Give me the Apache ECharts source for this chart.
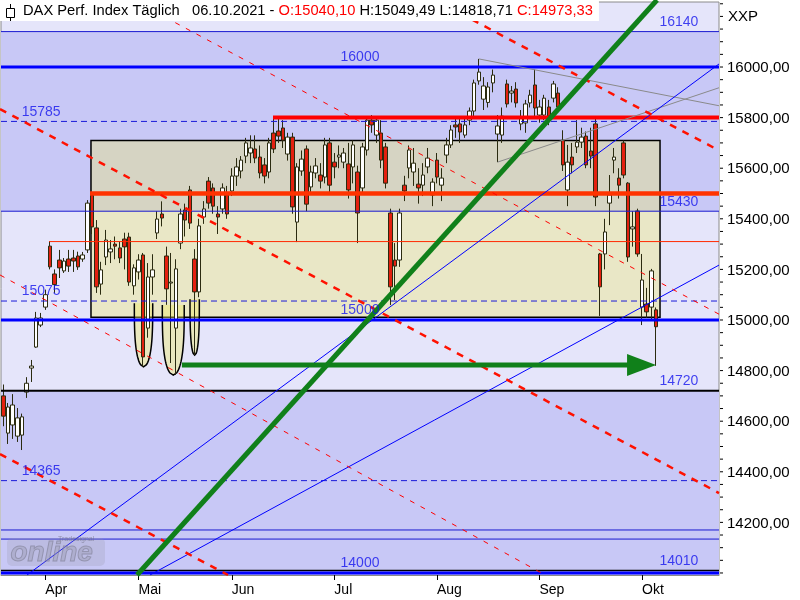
<!DOCTYPE html>
<html><head><meta charset="utf-8">
<script src="https://cdn.jsdelivr.net/npm/echarts@6/dist/echarts.min.js"></script>
<style>html,body{margin:0;padding:0;background:#fff}#c{width:800px;height:600px}</style>
</head><body><div id="c"></div>
<script>
// ---------- data ----------
const DATES = [
 '2021-03-19','2021-03-22','2021-03-23','2021-03-24','2021-03-25','2021-03-26','2021-03-29','2021-03-30','2021-03-31',
 '2021-04-01','2021-04-06','2021-04-07','2021-04-08','2021-04-09','2021-04-12','2021-04-13','2021-04-14','2021-04-15','2021-04-16',
 '2021-04-19','2021-04-20','2021-04-21','2021-04-22','2021-04-23','2021-04-26','2021-04-27','2021-04-28','2021-04-29','2021-04-30',
 '2021-05-03','2021-05-04','2021-05-05','2021-05-06','2021-05-07','2021-05-10','2021-05-11','2021-05-12','2021-05-13','2021-05-14',
 '2021-05-17','2021-05-18','2021-05-19','2021-05-20','2021-05-21','2021-05-25','2021-05-26','2021-05-27','2021-05-28','2021-05-31',
 '2021-06-01','2021-06-02','2021-06-03','2021-06-04','2021-06-07','2021-06-08','2021-06-09','2021-06-10','2021-06-11','2021-06-14',
 '2021-06-15','2021-06-16','2021-06-17','2021-06-18','2021-06-21','2021-06-22','2021-06-23','2021-06-24','2021-06-25','2021-06-28',
 '2021-06-29','2021-06-30',
 '2021-07-01','2021-07-02','2021-07-05','2021-07-06','2021-07-07','2021-07-08','2021-07-09','2021-07-12','2021-07-13','2021-07-14',
 '2021-07-15','2021-07-16','2021-07-19','2021-07-20','2021-07-21','2021-07-22','2021-07-23','2021-07-26','2021-07-27','2021-07-28',
 '2021-07-29','2021-07-30',
 '2021-08-02','2021-08-03','2021-08-04','2021-08-05','2021-08-06','2021-08-09','2021-08-10','2021-08-11','2021-08-12','2021-08-13',
 '2021-08-16','2021-08-17','2021-08-18','2021-08-19','2021-08-20','2021-08-23','2021-08-24','2021-08-25','2021-08-26','2021-08-27',
 '2021-08-30','2021-08-31',
 '2021-09-01','2021-09-02','2021-09-03','2021-09-06','2021-09-07','2021-09-08','2021-09-09','2021-09-10','2021-09-13','2021-09-14',
 '2021-09-15','2021-09-16','2021-09-17','2021-09-20','2021-09-21','2021-09-22','2021-09-23','2021-09-24','2021-09-27','2021-09-28',
 '2021-09-29','2021-09-30',
 '2021-10-01','2021-10-04','2021-10-05','2021-10-06'
];
const FUTURE_DATES = ['2021-10-07','2021-10-08','2021-10-11','2021-10-12','2021-10-13','2021-10-14','2021-10-15',
 '2021-10-18','2021-10-19','2021-10-20','2021-10-21','2021-10-22','2021-10-25'];
// [open, close, low, high]
const OHLC = [
 [14700,14620,14580,14745],[14553,14656,14510,14672],[14585,14664,14530,14707],[14541,14613,14518,14652],[14545,14617,14486,14630],
 [14715,14750,14692,14774],[14810,14818,14755,14842],[14893,15008,14890,15032],[14980,15008,14972,15028],
 [15051,15100,15040,15120],[15292,15210,15200,15312],[15182,15140,15107,15200],[15237,15206,15166,15277],[15194,15233,15186,15245],
 [15241,15213,15190,15277],[15245,15233,15190,15277],[15253,15210,15198,15270],[15241,15257,15230,15269],[15277,15462,15265,15474],
 [15494,15368,15340,15501],[15364,15131,15107,15395],[15142,15198,15100,15230],[15249,15316,15217,15356],[15269,15281,15225,15316],
 [15300,15292,15240,15330],[15285,15245,15225,15310],[15320,15289,15200,15345],[15328,15150,15135,15345],[15135,15206,15100,15220],
 [15190,15237,15160,15260],[15257,14854,14814,15265],[14968,15170,14930,15225],[15170,15198,15100,15260],[15344,15399,15320,15430],
 [15419,15403,15370,15469],[15253,15123,15060,15290],[15146,15150,14830,15265],[14968,15202,14783,15240],[15304,15419,15280,15440],
 [15435,15395,15330,15460],[15514,15383,15360,15530],[15241,15111,14862,15280],[15111,15372,15090,15400],[15407,15439,15380,15470],
 [15549,15462,15440,15565],[15522,15450,15420,15540],[15419,15407,15340,15450],[15439,15522,15420,15540],[15494,15419,15400,15530],
 [15510,15569,15490,15600],[15569,15605,15530,15640],[15589,15632,15560,15648],[15648,15700,15620,15720],[15660,15680,15620,15730],
 [15676,15640,15620,15730],[15644,15581,15560,15690],[15613,15569,15540,15640],[15585,15700,15560,15720],[15739,15676,15660,15805],
 [15747,15727,15700,15800],[15759,15711,15680,15790],[15656,15723,15630,15740],[15723,15447,15420,15740],[15387,15605,15308,15620],
 [15589,15636,15570,15670],[15676,15458,15430,15690],[15526,15585,15500,15610],[15581,15609,15560,15640],[15573,15549,15520,15620],
 [15565,15692,15540,15720],[15700,15533,15500,15720],
 [15624,15605,15560,15660],[15644,15652,15600,15690],[15624,15660,15600,15680],[15617,15514,15480,15700],[15605,15692,15540,15710],
 [15585,15423,15304,15610],[15522,15684,15500,15700],[15672,15790,15650,15800],[15790,15771,15740,15810],[15731,15790,15700,15800],
 [15739,15632,15600,15790],[15684,15541,15520,15700],[15423,15131,15059,15440],[15237,15213,15079,15304],[15237,15423,15210,15440],
 [15533,15510,15470,15570],[15601,15672,15560,15690],[15585,15620,15530,15680],[15537,15522,15460,15600],[15533,15573,15490,15620],
 [15605,15640,15580,15680],[15494,15545,15450,15560],
 [15632,15565,15540,15660],[15533,15561,15470,15600],[15652,15692,15620,15720],[15692,15751,15680,15770],[15771,15763,15720,15800],
 [15775,15743,15700,15800],[15731,15771,15720,15800],[15790,15826,15770,15840],[15826,15937,15800,15950],[15945,15980,15930,16032],
 [15873,15925,15830,15960],[15860,15921,15840,15940],[15937,15968,15900,15990],[15735,15767,15624,15810],[15731,15806,15700,15840],
 [15933,15854,15840,15950],[15897,15905,15860,15925],[15913,15858,15840,15940],[15775,15798,15750,15830],[15779,15854,15740,15870],
 [15858,15889,15840,15910],[15929,15838,15800,15990],
 [15810,15842,15780,15870],[15810,15877,15790,15890],[15842,15806,15770,15870],[15877,15933,15860,15945],[15897,15842,15820,15920],
 [15711,15613,15589,15750],[15514,15624,15450,15692],[15644,15613,15580,15700],[15684,15703,15660,15790],[15703,15723,15680,15760],
 [15727,15613,15600,15745],[15668,15648,15600,15760],[15775,15486,15450,15800],[15261,15131,15016,15265],[15261,15348,15200,15400],
 [15462,15494,15375,15573],[15632,15644,15580,15680],[15561,15533,15480,15600],[15700,15573,15560,15710],[15541,15249,15230,15545],
 [15360,15368,15290,15430],[15431,15261,15250,15440],
 [15051,15158,14980,15261],[15063,15032,15008,15127],[15051,15194,15000,15202],[15040.10,14973.33,14818.71,15049.49]
];
const MONTH_NAMES = {'04':'Apr','05':'Mai','06':'Jun','07':'Jul','08':'Aug','09':'Sep','10':'Okt'};
const Y_MIN = 13992, Y_MAX = 16257;
const Y_LABELS = [14200,14400,14600,14800,15000,15200,15400,15600,15800,16000];
const Y_MINOR = [14000,14050,14100,14150,14200,14250,14300,14350,14400,14450,14500,14550,14600,14650,14700,14750,
 14800,14850,14900,14950,15000,15050,15100,15150,15200,15250,15300,15350,15400,15450,15500,15550,15600,15650,15700,
 15750,15800,15850,15900,15950,16000,16050,16100,16150,16200,16250];
// horizontal zones
const DARK_ZONES = [[15430,16140],[Y_MIN,14720]];
// horizontal levels
const LEVELS_THICK_BLUE = [16000,15000,14000];
const LEVELS_THIN_BLUE = [16140,15430,14170,14134];
const LEVELS_DASHED_BLUE = [15785,15075,14365];
const LEVELS_BLACK = [14720,14010];
const LABELS_LEFT = [15785,15075,14365];
const LABELS_MID = [16000,15000,14000];
const LABELS_RIGHT = [16140,15430,14720,14010];
// red horizontal lines that start at a candle: [start index, value]
const RED_THICK = [[57.84,15800]];
const ORANGE_THICK = [[18.6,15500]];
const ORANGE_THIN = [[9.8,15310]];
// trend lines: [[index, value],[index, value]]
const GREEN_TREND = [[28.67,13992],[140.2,16265]];
const BLUE_TRENDS = [[[5.08,13992],[153.5,16012]],[[31.46,13992],[153.5,15217]]];
const RED_DASHED_THICK = [[[92.59,16265],[153.5,15670]],[[-0.71,15834],[153.5,14316]],[[-0.71,14470],[48.19,13992]]];
const RED_DASHED_THIN = [[[27.81,16265],[153.5,15023]],[[-0.71,15178],[116.2,13992]]];
const GRAY_TRIANGLE = [[[102,16032],[153.5,15847]],[[106,15624],[153.5,15918]]];
// box [index from, value top, index to, value bottom]
const BOX = [18.8,15710,140.85,15011];
// U shapes [index left, index right, value top, value bottom]
const U_SHAPES = [[28.1,32.04,15066,14815],[34.1,38.8,15059,14782],[40.04,42.04,15082,14861]];
// arrow [index from, value, index to, value]
const ARROW = [38.3,14822,140.0,14822];

// ---------- chart ----------
const FONT = 'Liberation Sans';
const CATS = DATES.concat(FUTURE_DATES);
const N = CATS.length;
const XMIN = -0.5, XMAX = N - 0.5;
const isMonthStart = (i) => i > 0 && i < N && CATS[i].slice(5,7) !== CATS[i-1].slice(5,7);
const fmt = (v) => v.toFixed(2).replace('.', ',');
const last = OHLC[OHLC.length-1];
const lastDate = DATES[DATES.length-1].split('-').reverse().join('.');

function seg(pts, style, z) {
  return {type:'line', xAxisIndex:1, yAxisIndex:0, data:pts, symbol:'none', showSymbol:false,
    silent:true, animation:false, clip:true, z:z, lineStyle:style};
}
const series = [];
// zones
series.push({type:'line', xAxisIndex:1, yAxisIndex:0, data:[], silent:true, z:1,
  markArea:{silent:true, itemStyle:{color:'#c8c8f6'}, data: DARK_ZONES.map(z => [{yAxis:z[0]},{yAxis:z[1]}])}});
// box
series.push({type:'line', xAxisIndex:1, yAxisIndex:0, data:[], silent:true, z:2,
  markArea:{silent:true, itemStyle:{color:'rgba(240,235,100,0.35)', borderColor:'#000', borderWidth:1.5},
   data:[[{xAxis:BOX[0], yAxis:BOX[1]},{xAxis:BOX[2], yAxis:BOX[3]}]]}});
// U shapes
series.push({type:'custom', xAxisIndex:1, yAxisIndex:0, data:U_SHAPES, z:2, silent:true, clip:true,
  renderItem(params, api){
    const l=api.value(0), r=api.value(1), top=api.value(2), bot=api.value(3);
    const pL=api.coord([l,top]), pR=api.coord([r,top]), pB=api.coord([(l+r)/2,bot]);
    const hw=(pR[0]-pL[0])/2, cx=(pR[0]+pL[0])/2, h=pB[1]-pL[1];
    const left=[], right=[];
    for (let k=0;k<=30;k++){ const t=k/30; const off=hw*Math.sqrt(Math.max(0,1-Math.pow(t,3.2))); left.push([cx-off,pL[1]+t*h]); right.unshift([cx+off,pL[1]+t*h]); }
    const pts=left.concat(right);
    return {type:'group', children:[
      {type:'polygon', shape:{points:pts}, style:{fill:'rgba(240,235,100,0.4)'}},
      {type:'polyline', shape:{points:pts}, style:{fill:null, stroke:'#000', lineWidth:1.5}}
    ]};
  }});
// candles
series.push({type:'candlestick', xAxisIndex:0, yAxisIndex:0, data:OHLC, barWidth:4, z:3, silent:true,
  itemStyle:{color:'#ffffff', color0:'#e3200f', borderColor:'#2b2b10', borderColor0:'#2b2b10', borderWidth:1}});
// levels
LEVELS_THIN_BLUE.forEach(v => series.push(seg([[XMIN,v],[XMAX,v]], {color:'#1a1ad0', width:1}, 4)));
LEVELS_DASHED_BLUE.forEach(v => series.push(seg([[XMIN,v],[XMAX,v]], {color:'#1a1ad8', width:1, type:[6,4]}, 4)));
LEVELS_BLACK.forEach((v,k) => series.push(seg([[XMIN,v],[XMAX,v]], {color:'#000', width:k===0?2:1.5}, 4)));
LEVELS_THICK_BLUE.forEach(v => series.push(seg([[XMIN,v],[XMAX,v]], {color:'#0000ff', width:3}, 5)));
ORANGE_THIN.forEach(p => series.push(seg([[p[0],p[1]],[XMAX,p[1]]], {color:'#ff2a00', width:1}, 4)));
ORANGE_THICK.forEach(p => series.push(seg([[p[0],p[1]],[XMAX,p[1]]], {color:'#ff3300', width:4.5}, 5)));
RED_THICK.forEach(p => series.push(seg([[p[0],p[1]],[XMAX,p[1]]], {color:'#ff0000', width:4}, 5)));
// trend lines
GRAY_TRIANGLE.forEach(l => series.push(seg(l, {color:'#8a8a8a', width:1}, 5)));
BLUE_TRENDS.forEach(l => series.push(seg(l, {color:'#0000ff', width:1}, 5)));
RED_DASHED_THIN.forEach(l => series.push(seg(l, {color:'#ff0000', width:1, type:[5,7]}, 5)));
RED_DASHED_THICK.forEach(l => series.push(seg(l, {color:'#ff1100', width:2.5, type:[7,7]}, 5)));
series.push(seg(GREEN_TREND, {color:'#10801a', width:5}, 6));
// arrow
series.push({type:'custom', xAxisIndex:1, yAxisIndex:0, data:[ARROW], z:6, silent:true,
  renderItem(params, api){
    const p0=api.coord([api.value(0),api.value(1)]), p1=api.coord([api.value(2),api.value(3)]);
    return {type:'group', children:[
      {type:'line', shape:{x1:p0[0], y1:p0[1], x2:p1[0]-26, y2:p1[1]}, style:{stroke:'#10801a', lineWidth:5}},
      {type:'polygon', shape:{points:[[p1[0]-29,p1[1]-11],[p1[0],p1[1]],[p1[0]-29,p1[1]+11]]}, style:{fill:'#10801a'}}
    ]};
  }});
// level labels
function labelSeries(xIdx, vals){
  return {type:'scatter', xAxisIndex:1, yAxisIndex:0, z:7, silent:true, symbolSize:1,
    itemStyle:{color:'rgba(0,0,0,0)'}, data: vals.map(v => [xIdx, v]),
    label:{show:true, position:'top', distance:2, formatter:(p)=>String(p.value[1]),
      color:'#1414ee', fontSize:14, fontFamily:FONT}};
}
series.push(labelSeries(8.1, LABELS_LEFT));
series.push(labelSeries(76.5, LABELS_MID));
series.push(labelSeries(144.9, LABELS_RIGHT));
// right value axis ticks + labels
series.push({type:'custom', xAxisIndex:1, yAxisIndex:0, z:8, silent:true, clip:false,
  data: Y_MINOR.map(v => [XMAX, v]),
  renderItem(params, api){
    const v=api.value(1); const p=api.coord([api.value(0), v]);
    const ch=[{type:'line', shape:{x1:p[0]+1, y1:p[1], x2:p[0]+4, y2:p[1]}, style:{stroke:'#000', lineWidth:1}}];
    if (Y_LABELS.indexOf(v) >= 0) ch.push({type:'text', x:p[0]+8, y:p[1]+1,
      style:{text:fmt(v), fill:'#000', fontSize:15, fontFamily:FONT, verticalAlign:'middle', align:'left'}});
    return {type:'group', children:ch};
  }});

const option = {
  animation:false,
  backgroundColor:'#ffffff',
  textStyle:{fontFamily:FONT},
  title:[
    {left:0, top:0, padding:[3,6,3,23], backgroundColor:'#ffffff',
     text:'{k|DAX Perf. Index Täglich   ' + lastDate + ' - }{r|O:' + fmt(last[0]) + '}{k| H:' + fmt(last[3]) + ' L:' + fmt(last[2]) + ' }{r|C:' + fmt(last[1]) + '}',
     textStyle:{fontSize:14.7, fontWeight:'normal', fontFamily:FONT,
       rich:{k:{color:'#000', fontSize:14.7, fontFamily:FONT}, r:{color:'#ff0000', fontSize:14.7, fontFamily:FONT}}}},
    {left:723, top:4, text:'XXP', textStyle:{fontSize:15, fontWeight:'normal', color:'#000', fontFamily:FONT}}
  ],
  graphic:[
    {type:'line', shape:{x1:10.5, y1:4, x2:10.5, y2:21}, style:{stroke:'#000', lineWidth:1}, z:100},
    {type:'rect', shape:{x:6.5, y:8.5, width:8, height:9}, style:{fill:'#fff', stroke:'#000', lineWidth:1}, z:101},
    {type:'rect', shape:{x:7, y:538, width:98, height:28, r:5}, style:{fill:'rgba(150,150,170,0.25)'}, z:99},
    {type:'text', left:10, top:539, z:100, style:{text:'online', fontSize:28, fontWeight:'bold', fontStyle:'italic',
      fontFamily:FONT, fill:'rgba(150,150,170,0.35)', stroke:'rgba(110,110,130,0.5)', lineWidth:1}},
    {type:'text', left:58, top:536, z:100, style:{text:'Tradesignal', fontSize:7, fontFamily:FONT, fill:'rgba(110,110,130,0.6)'}}
  ],
  grid:{left:1, right:81, top:2, bottom:25, show:true, backgroundColor:'#e5e5fa', borderColor:'#8a8a8a', borderWidth:1},
  xAxis:[
    {type:'category', data:CATS, boundaryGap:true,
     axisLine:{show:true, onZero:false, lineStyle:{color:'#8a8a8a'}},
     axisTick:{show:true, alignWithLabel:true, length:5, interval:(i)=>isMonthStart(i), lineStyle:{color:'#000'}},
     axisLabel:{show:true, interval:(i)=>isMonthStart(i), formatter:(v)=>MONTH_NAMES[v.slice(5,7)] || '',
       align:'left', margin:8, fontSize:14, color:'#000', fontFamily:FONT},
     splitLine:{show:false}},
    {type:'value', min:XMIN, max:XMAX, show:false}
  ],
  yAxis:[{type:'value', position:'right', min:Y_MIN, max:Y_MAX, scale:true,
    axisLine:{show:false}, axisTick:{show:false}, axisLabel:{show:false}, splitLine:{show:false}}],
  series: series
};
const chart = echarts.init(document.getElementById('c'));
chart.setOption(option);
</script>
</body></html>
